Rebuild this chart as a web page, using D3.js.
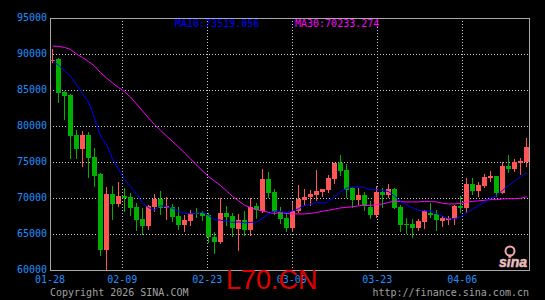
<!DOCTYPE html>
<html>
<head>
<meta charset="utf-8">
<script src="https://cdn.jsdelivr.net/npm/d3@7"></script>
<style>
body { margin: 0; background: #000; }
svg { display: block; }
text { font-family: "DejaVu Sans Mono", monospace; font-size: 10px; }
</style>
</head>
<body>
<script>
// daily candles
const opens  = [89167,89306,84764,84306,78750,76847,78750,75736,73292,62778,
                70556,69167,70319,70181,68708,67083,66153,68792,69861,68653,
                68792,67542,66250,66847,67958,67958,67639,64625,63931,67958,
                67542,65694,66944,65556,68889,68236,72639,70792,68097,67264,
                65792,68236,69722,70097,70417,70875,71111,72639,74903,73889,
                71431,69722,70417,68792,67639,70875,70417,71208,68708,66389,
                66389,65875,66708,67958,67819,66806,66944,67042,68931,68653,
                71944,70972,71708,72736,73056,70653,74444,74028,74819,75042];
const highs  = [90694,89486,84900,84400,79444,79347,79208,76986,73431,71569,
                71708,72222,71431,70736,69347,68611,69069,70556,70972,70181,
                69167,68792,67639,68333,68569,68236,67875,65278,70042,68931,
                67875,67778,68194,70042,69306,74028,73569,71208,68792,67875,
                69486,71806,71250,71111,73889,71250,73194,74903,75972,74722,
                71569,71347,70875,69583,71708,71347,71944,71347,69028,67181,
                67083,67083,68333,69347,68333,67542,67500,69028,70278,72736,
                72819,72264,73333,73750,73056,74958,75972,75417,75514,78292];
const lows   = [88850,83375,80972,75597,75597,74486,72875,71708,62083,60100,
                67083,68931,68236,67639,65556,64958,65694,68236,67778,67083,
                66847,65694,65458,66250,67403,66944,63931,62403,63792,66250,
                64722,62778,64861,64861,67222,68014,70181,67736,66486,65458,
                65458,68097,69028,69028,69722,70319,70875,72042,73194,70181,
                68792,69125,68333,67264,67319,68792,70097,68569,65458,65097,
                64625,65556,65875,67319,65556,66111,66389,66389,68097,68097,
                70556,70319,71569,72361,70319,70653,73653,73792,73292,74444];
const closes = [89167,84625,84208,78653,76847,78750,75597,73097,62778,70597,
                69167,70319,70042,68653,66944,66153,68931,69861,68653,68931,
                67403,66250,66944,67958,67778,67542,64542,63931,67958,67403,
                65792,66944,65556,68708,68333,72639,70653,68097,67083,65875,
                68194,69861,70181,70556,70972,71250,72819,74903,73750,71111,
                69722,70417,68931,67639,70875,70417,71208,68653,66250,66208,
                65875,66806,68194,67681,66944,67181,67181,68931,68569,71944,
                70972,71806,72958,73056,70653,74444,73986,74958,75139,77125];

// moving average values before the window is full (closes before the chart are not shown)
const ma10Head = [89056,88431,87708,86903,85764,84444,83333,81111,78611];
const ma30Head = [91111,91042,90931,90625,90000,89514,88958,88333,87431,86667,
                  85972,85347,84750,84028,83056,82083,81111,80236,79403,78611,
                  77847,77083,76250,75417,74583,73750,72986,72361,71736];

const priceTicks = [95000,90000,85000,80000,75000,70000,65000,60000];
const dateLabels = ["01-28","02-09","02-23","03-09","03-23","04-06"];
const dateSlots  = [0, 12.05, 26.2, 40.28, 54.55, 68.72];
const legendItems = [
    {label: "MA10:73519.056", color: "#0000ff"},
    {label: "MA30:70233.274", color: "#ff00ff"}
];

const width = 545, height = 300;
const plotLeft = 50, plotRight = 530, plotTop = 18, plotBottom = 270;

const svg = d3.select("body").append("svg")
    .attr("width", width)
    .attr("height", height);

svg.append("rect")
    .attr("width", width)
    .attr("height", height)
    .attr("fill", "#000");

const x = d3.scaleLinear()
    .domain([0, closes.length])
    .range([plotLeft, plotRight]);

const y = d3.scaleLinear()
    .domain([60000, 95000])
    .range([plotBottom, plotTop]);

const px = v => Math.round(v) + 0.5;

// grid

svg.append("g")
    .selectAll("line")
    .data(priceTicks.slice(1, -1))
    .enter()
    .append("line")
    .attr("x1", plotLeft)
    .attr("x2", plotRight - 1)
    .attr("y1", d => px(y(d)))
    .attr("y2", d => px(y(d)))
    .attr("stroke", "#c8c8c8")
    .attr("stroke-dasharray", "1,2");

svg.append("g")
    .selectAll("line")
    .data(dateSlots.slice(1))
    .enter()
    .append("line")
    .attr("x1", d => px(x(d)))
    .attr("x2", d => px(x(d)))
    .attr("y1", plotTop)
    .attr("y2", plotBottom)
    .attr("stroke", "#c8c8c8")
    .attr("stroke-dasharray", "1,2");

// frame

svg.append("rect")
    .attr("x", plotLeft + 0.5)
    .attr("y", plotTop + 0.5)
    .attr("width", plotRight - plotLeft - 1)
    .attr("height", plotBottom - plotTop)
    .attr("fill", "none")
    .attr("stroke", "#a8a8a8");

// candles

const candles = closes.map((c, i) => ({o: opens[i], h: highs[i], l: lows[i], c: c, i: i}));
const upColor = "#ff5555", downColor = "#00b000";

const cg = svg.append("g")
    .attr("shape-rendering", "crispEdges");

cg.selectAll(".wick")
    .data(candles)
    .enter()
    .append("line")
    .attr("class", "wick")
    .attr("x1", d => x(d.i) + 2.5)
    .attr("x2", d => x(d.i) + 2.5)
    .attr("y1", d => Math.round(y(d.h)))
    .attr("y2", d => Math.round(y(d.l)) + 1)
    .attr("stroke", d => d.c >= d.o ? upColor : downColor);

cg.selectAll(".body")
    .data(candles)
    .enter()
    .append("rect")
    .attr("class", "body")
    .attr("x", d => x(d.i))
    .attr("width", 5)
    .attr("y", d => Math.round(y(Math.max(d.o, d.c))))
    .attr("height", d => Math.max(1, Math.round(y(Math.min(d.o, d.c))) - Math.round(y(Math.max(d.o, d.c)))))
    .attr("fill", d => d.c >= d.o ? upColor : downColor);

// moving averages

function movingAvg(head, n) {
    return closes.map((c, i) => i < head.length ? head[i] : d3.mean(closes.slice(i - n + 1, i + 1)));
}

const line = d3.line()
    .x((d, i) => x(i) + 2.5)
    .y(d => y(d));

svg.append("path")
    .datum(movingAvg(ma30Head, 30))
    .attr("d", line)
    .attr("fill", "none")
    .attr("stroke", "#ff00ff")
    .attr("stroke-width", 1);

svg.append("path")
    .datum(movingAvg(ma10Head, 10))
    .attr("d", line)
    .attr("fill", "none")
    .attr("stroke", "#0000ff")
    .attr("stroke-width", 1);

// legend

svg.selectAll(".legend")
    .data(legendItems)
    .enter()
    .append("text")
    .attr("class", "legend")
    .attr("x", (d, i) => 175 + i * 120)
    .attr("y", 27)
    .attr("fill", d => d.color)
    .text(d => d.label);

// axes labels

svg.selectAll(".ylabel")
    .data(priceTicks)
    .enter()
    .append("text")
    .attr("class", "ylabel")
    .attr("x", 47)
    .attr("y", d => y(d) + 2.5)
    .attr("text-anchor", "end")
    .attr("fill", "#1e90ff")
    .text(d => d);

svg.selectAll(".xlabel")
    .data(dateLabels)
    .enter()
    .append("text")
    .attr("class", "xlabel")
    .attr("x", (d, i) => x(dateSlots[i]))
    .attr("y", 283)
    .attr("text-anchor", "middle")
    .attr("fill", "#1e90ff")
    .text(d => d);

svg.append("text")
    .attr("x", 50)
    .attr("y", 296)
    .attr("fill", "#a0a0a0")
    .text("Copyright 2026 SINA.COM");

svg.append("text")
    .attr("x", 529)
    .attr("y", 296)
    .attr("text-anchor", "end")
    .attr("fill", "#a0a0a0")
    .text("http://finance.sina.com.cn");

// sina watermark

const logo = svg.append("g");
logo.append("circle")
    .attr("cx", 510)
    .attr("cy", 251)
    .attr("r", 4.5)
    .attr("fill", "none")
    .attr("stroke", "#f0a8a8")
    .attr("stroke-width", 2);
logo.append("text")
    .attr("x", 513)
    .attr("y", 267)
    .attr("text-anchor", "middle")
    .style("font-family", "'Liberation Sans', Arial, sans-serif")
    .style("font-size", "14px")
    .style("font-weight", "bold")
    .style("font-style", "italic")
    .attr("fill", "#cfcfcf")
    .attr("stroke", "#f0a8a8")
    .attr("stroke-width", 0.6)
    .text("sina");

// symbol

svg.append("text")
    .attr("x", 226)
    .attr("y", 288.5)
    .style("font-family", "'Liberation Sans', Arial, sans-serif")
    .style("font-size", "27px")
    .attr("fill", "#e00000")
    .text("L70.CN");
</script>
</body>
</html>
